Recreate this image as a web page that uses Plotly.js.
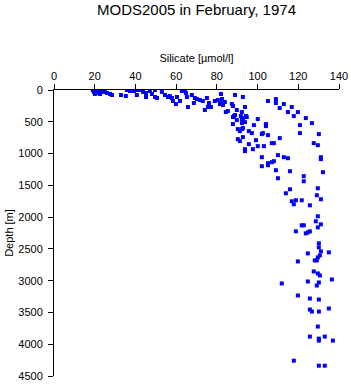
<!DOCTYPE html>
<html>
<head>
<meta charset="utf-8">
<script src="https://cdn.plot.ly/plotly-3.0.1.min.js"></script>
<style>html,body{margin:0;padding:0;background:#fff;}#chart{width:351px;height:384px;}</style>
</head>
<body>
<div id="chart"></div>
<script>
// Silicate [µmol/l]
const silicate = [
 19.1,19.6,20.1,21.1,22.1,23.1,24.1,25.0,26.0,27.5,20.6,22.6,
 28.5,32.9,35.3,35.8,37.3,39.3,40.7,40.7,42.2,43.7,45.2,45.2,47.1,49.6,48.1,49.6,50.6,53.0,
 54.5,56.0,56.9,57.9,58.4,59.9,60.4,61.9,62.8,64.8,65.3,65.8,67.7,69.2,68.7,64.3,70.2,71.7,
 73.1,74.1,75.1,76.1,75.6,77.1,79.0,80.5,82.0,83.0,81.5,82.5,82.0,83.9,84.4,85.4,87.4,87.9,
 88.4,87.9,88.9,89.8,88.9,89.8,87.9,92.3,91.8,92.3,92.8,93.8,94.3,94.7,92.8,92.3,93.8,90.3,
 92.3,91.3,92.8,95.7,97.2,90.3,91.3,92.8,95.7,93.8,93.8,97.7,99.2,100.1,98.2,100.1,102.1,102.6,
 103.1,104.1,104.1,105.1,105.1,102.1,102.1,105.1,105.1,107.0,108.0,107.0,108.0,109.0,109.0,110.0,
 109.0,110.0,110.9,110.9,112.9,112.9,114.9,114.9,115.9,116.8,117.8,119.8,120.8,120.8,122.7,123.7,
 126.7,127.6,129.6,130.1,131.1,131.1,132.1,122.7,129.6,115.9,113.9,129.1,131.1,116.8,118.8,121.7,
 117.8,125.7,129.6,128.6,131.1,121.7,122.7,129.6,118.8,124.7,125.7,123.7,130.1,130.1,131.1,135.0,
 124.7,130.6,129.6,128.1,129.1,119.8,127.6,129.6,130.6,136.5,111.9,124.7,130.1,129.1,119.8,125.7,
 130.1,135.0,125.7,126.7,130.1,129.6,125.7,130.1,133.0,130.1,137.0,117.8,130.1,133.0
];
// Depth [m]
const depth = [
 0,30,63,16,47,0,30,16,47,63,0,63,
 79,79,95,0,16,16,0,79,0,30,110,47,16,0,63,110,126,30,
 79,110,95,126,173,221,110,173,16,47,110,268,79,126,205,0,142,158,
 173,315,126,205,268,268,173,158,205,237,221,142,63,189,347,331,221,252,
 410,426,79,315,394,473,536,347,410,457,110,268,410,426,442,521,505,615,
 615,647,599,647,678,773,804,741,852,931,962,931,789,457,552,883,694,678,
 883,536,568,710,173,1057,1199,1151,1183,1136,1120,836,836,142,205,1025,
 1262,1388,284,757,221,1057,347,1073,1278,268,410,347,552,678,1356,442,
 521,836,868,694,1057,1088,1293,1435,1546,1562,1625,1656,1719,1751,1735,1735,
 1798,1814,1987,2066,2114,2129,2129,2161,2224,2240,2224,2256,2413,2476,2539,2555,
 2571,2603,2634,2681,2681,2697,2855,2886,2918,2981,3044,3013,3028,3076,3233,3281,
 3297,3438,3454,3486,3486,3722,3880,3912,3880,3943,3943,4259,4338,4338
];
const xTicks = [0,20,40,60,80,100,120,140];
const yTicks = [0,500,1000,1500,2000,2500,3000,3500,4000,4500];

const font = "Liberation Sans, Arial, Helvetica, sans-serif";
Plotly.newPlot('chart', [{
  x: silicate, y: depth, type: 'scatter', mode: 'markers',
  marker: {symbol: 'square', size: 4, color: '#0000ff', line: {width: 0}},
  hoverinfo: 'skip'
}], {
  width: 351, height: 384,
  margin: {l: 54, r: 12, t: 90, b: 8, pad: 0},
  paper_bgcolor: '#fff', plot_bgcolor: '#fff',
  font: {family: font, size: 11, color: '#000'},
  showlegend: false,
  title: {text: 'MODS2005 in February, 1974', font: {family: font, size: 15, color: '#000'},
          x: 0.5, xref: 'paper', xanchor: 'center', y: 1 - 10/384, yref: 'container', yanchor: 'middle'},
  xaxis: {
    side: 'top', range: [0, 140], tickvals: xTicks, ticktext: xTicks.map(String),
    showline: true, linecolor: '#000', linewidth: 1, mirror: false,
    ticks: 'outside', ticklen: 5, tickcolor: '#000', tickwidth: 1,
    showgrid: false, zeroline: false, tickfont: {size: 11},
    title: {text: 'Silicate [µmol/l]', font: {size: 11}, standoff: 4}
  },
  yaxis: {
    range: [4500, 0], tickvals: yTicks, ticktext: yTicks.map(String),
    showline: true, linecolor: '#000', linewidth: 1, mirror: false,
    ticks: 'outside', ticklen: 5, tickcolor: '#000', tickwidth: 1,
    ticklabelstandoff: 3,
    showgrid: false, zeroline: false, tickfont: {size: 11},
    title: {text: 'Depth [m]', font: {size: 11}, standoff: 2}
  }
}, {displayModeBar: false, staticPlot: true});
</script>
</body>
</html>
